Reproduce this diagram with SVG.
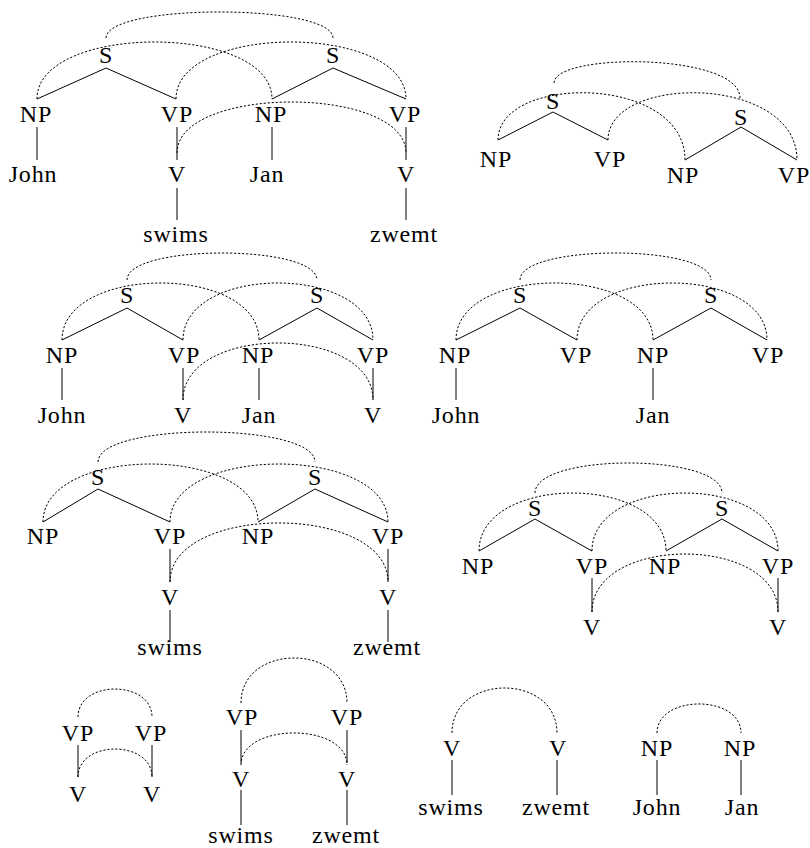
<svg xmlns="http://www.w3.org/2000/svg" width="810" height="848" viewBox="0 0 810 848">
  <style>
    text { font-family: "Liberation Serif", "Times New Roman", serif; font-size: 24px; letter-spacing: 0.8px; text-anchor: middle; fill: #000; }
    .e { stroke: #000; stroke-width: 1; fill: none; }
    .d { stroke: #000; stroke-width: 1; fill: none; stroke-dasharray: 2.2 1.8; }
  </style>
  <rect width="810" height="848" fill="#fff"/>

  <!-- Tree 1: full trees with words -->
  <g id="t1">
    <g id="t1-edges">
      <path class="e" d="M37 99 L106 68 L176 99 M272 99 L333 68 L406 99 M37 127 V160 M177 127 V160 M272 127 V160 M406 127 V160 M177 188 V220 M406 188 V220"/>
      <path class="d" d="M106 38 C106 3.3 333 3.3 333 38"/>
      <path class="d" d="M37 99 C37 23 272 23 272 99"/>
      <path class="d" d="M176 99 C176 23 406 23 406 99"/>
      <path class="d" d="M177 153 C177 85 406 85 406 153"/>
    </g>
    <g id="t1-s1"><text x="106" y="63">S</text></g>
    <g id="t1-s2"><text x="333" y="63">S</text></g>
    <g id="t1-np1"><text x="36" y="122">NP</text></g>
    <g id="t1-vp1"><text x="177" y="122">VP</text></g>
    <g id="t1-np2"><text x="271" y="122">NP</text></g>
    <g id="t1-vp2"><text x="405" y="122">VP</text></g>
    <g id="t1-john"><text x="33" y="182">John</text></g>
    <g id="t1-v1"><text x="177" y="182">V</text></g>
    <g id="t1-jan"><text x="267" y="182">Jan</text></g>
    <g id="t1-v2"><text x="406" y="182">V</text></g>
    <g id="t1-swims"><text x="176" y="242">swims</text></g>
    <g id="t1-zwemt"><text x="404" y="242">zwemt</text></g>
  </g>

  <!-- Tree 2: bare S skeletons -->
  <g id="t2">
    <g id="t2-edges">
      <path class="e" d="M498 140 L553 112 L608 140 M685 160 L741 127 L797 160"/>
      <path class="d" d="M554 83 C554 52.5 740 52.5 740 98"/>
      <path class="d" d="M498 140 C498 74 685 74 685 160"/>
      <path class="d" d="M608 140 C608 74 797 74 797 160"/>
    </g>
    <g id="t2-s1"><text x="553" y="109">S</text></g>
    <g id="t2-s2"><text x="741" y="125">S</text></g>
    <g id="t2-np1"><text x="496" y="167">NP</text></g>
    <g id="t2-vp1"><text x="610" y="167">VP</text></g>
    <g id="t2-np2"><text x="683" y="183">NP</text></g>
    <g id="t2-vp2"><text x="794" y="183">VP</text></g>
  </g>

  <!-- Tree 3: subjects and verbs -->
  <g id="t3">
    <g id="t3-edges">
      <path class="e" d="M62 340 L127 308 L183 340 M259 340 L317 308 L373 340 M62 368 V400 M183 368 V400 M259 368 V400 M373 368 V400"/>
      <path class="d" d="M127 280 C127 244 317 244 317 280"/>
      <path class="d" d="M62 340 C62 264 259 264 259 340"/>
      <path class="d" d="M183 340 C183 264 373 264 373 340"/>
      <path class="d" d="M183 400 C183 324 373 324 373 400"/>
    </g>
    <g id="t3-s1"><text x="127" y="303">S</text></g>
    <g id="t3-s2"><text x="317" y="303">S</text></g>
    <g id="t3-np1"><text x="62" y="363">NP</text></g>
    <g id="t3-vp1"><text x="184" y="363">VP</text></g>
    <g id="t3-np2"><text x="258" y="363">NP</text></g>
    <g id="t3-vp2"><text x="373" y="363">VP</text></g>
    <g id="t3-john"><text x="62" y="423">John</text></g>
    <g id="t3-v1"><text x="183" y="423">V</text></g>
    <g id="t3-jan"><text x="259" y="423">Jan</text></g>
    <g id="t3-v2"><text x="373" y="423">V</text></g>
  </g>

  <!-- Tree 4: subjects only -->
  <g id="t4">
    <g id="t4-edges">
      <path class="e" d="M456 340 L520 308 L577 340 M653 340 L711 308 L767 340 M456 368 V400 M653 368 V400"/>
      <path class="d" d="M520 280 C520 244 711 244 711 280"/>
      <path class="d" d="M456 340 C456 264 653 264 653 340"/>
      <path class="d" d="M577 340 C577 264 767 264 767 340"/>
    </g>
    <g id="t4-s1"><text x="520" y="303">S</text></g>
    <g id="t4-s2"><text x="711" y="303">S</text></g>
    <g id="t4-np1"><text x="455" y="363">NP</text></g>
    <g id="t4-vp1"><text x="576" y="363">VP</text></g>
    <g id="t4-np2"><text x="653" y="363">NP</text></g>
    <g id="t4-vp2"><text x="768" y="363">VP</text></g>
    <g id="t4-john"><text x="456" y="423">John</text></g>
    <g id="t4-jan"><text x="653" y="423">Jan</text></g>
  </g>

  <!-- Tree 5: verbs with words -->
  <g id="t5">
    <g id="t5-edges">
      <path class="e" d="M43 522 L98 489 L170 522 M258 522 L315 489 L388 522 M170 549 V582 M388 549 V582 M170 610 V642 M388 610 V642"/>
      <path class="d" d="M98 462 C98 422 315 422 315 462"/>
      <path class="d" d="M43 522 C43 444.7 258 444.7 258 522"/>
      <path class="d" d="M170 522 C170 444.7 388 444.7 388 522"/>
      <path class="d" d="M170 582 C170 503.3 388 503.3 388 582"/>
    </g>
    <g id="t5-s1"><text x="98" y="485">S</text></g>
    <g id="t5-s2"><text x="315" y="485">S</text></g>
    <g id="t5-np1"><text x="43" y="544">NP</text></g>
    <g id="t5-vp1"><text x="170" y="544">VP</text></g>
    <g id="t5-np2"><text x="258" y="544">NP</text></g>
    <g id="t5-vp2"><text x="388" y="544">VP</text></g>
    <g id="t5-v1"><text x="170" y="605">V</text></g>
    <g id="t5-v2"><text x="388" y="605">V</text></g>
    <g id="t5-swims"><text x="170" y="655">swims</text></g>
    <g id="t5-zwemt"><text x="387" y="655">zwemt</text></g>
  </g>

  <!-- Tree 6: verbs without words -->
  <g id="t6">
    <g id="t6-edges">
      <path class="e" d="M479 551 L535 519 L592 551 M666 551 L722 519 L778 551 M592 578 V612 M778 578 V612"/>
      <path class="d" d="M535 493 C535 453 722 453 722 493"/>
      <path class="d" d="M479 551 C479 473.7 666 473.7 666 551"/>
      <path class="d" d="M592 551 C592 473.7 778 473.7 778 551"/>
      <path class="d" d="M592 612 C592 534.7 778 534.7 778 612"/>
    </g>
    <g id="t6-s1"><text x="535" y="516">S</text></g>
    <g id="t6-s2"><text x="722" y="516">S</text></g>
    <g id="t6-np1"><text x="478" y="574">NP</text></g>
    <g id="t6-vp1"><text x="592" y="574">VP</text></g>
    <g id="t6-np2"><text x="665" y="574">NP</text></g>
    <g id="t6-vp2"><text x="778" y="574">VP</text></g>
    <g id="t6-v1"><text x="592" y="635">V</text></g>
    <g id="t6-v2"><text x="778" y="635">V</text></g>
  </g>

  <!-- Tree 7: VP over V -->
  <g id="t7">
    <g id="t7-edges">
      <path class="e" d="M78 745 V777 M152 745 V777"/>
      <path class="d" d="M78 717 C78 679.7 152 679.7 152 717"/>
      <path class="d" d="M78 777 C78 739.7 152 739.7 152 777"/>
    </g>
    <g id="t7-vp1"><text x="78" y="741">VP</text></g>
    <g id="t7-vp2"><text x="151" y="741">VP</text></g>
    <g id="t7-v1"><text x="78" y="802">V</text></g>
    <g id="t7-v2"><text x="152" y="802">V</text></g>
  </g>

  <!-- Tree 8: VP over V over words -->
  <g id="t8">
    <g id="t8-edges">
      <path class="e" d="M241 730 V763 M347 730 V763 M241 790 V825 M347 790 V825"/>
      <path class="d" d="M241 703 C241 643 347 643 347 703"/>
      <path class="d" d="M241 765 C241 722.3 347 722.3 347 765"/>
    </g>
    <g id="t8-vp1"><text x="242" y="725">VP</text></g>
    <g id="t8-vp2"><text x="347" y="725">VP</text></g>
    <g id="t8-v1"><text x="241" y="787">V</text></g>
    <g id="t8-v2"><text x="347" y="787">V</text></g>
    <g id="t8-swims"><text x="241" y="843">swims</text></g>
    <g id="t8-zwemt"><text x="346" y="843">zwemt</text></g>
  </g>

  <!-- Tree 9: V over words -->
  <g id="t9">
    <g id="t9-edges">
      <path class="e" d="M452 760 V795 M557 760 V795"/>
      <path class="d" d="M452 733 C452 673 557 673 557 733"/>
    </g>
    <g id="t9-v1"><text x="452" y="756">V</text></g>
    <g id="t9-v2"><text x="558" y="756">V</text></g>
    <g id="t9-swims"><text x="451" y="815">swims</text></g>
    <g id="t9-zwemt"><text x="556" y="815">zwemt</text></g>
  </g>

  <!-- Tree 10: NP over names -->
  <g id="t10">
    <g id="t10-edges">
      <path class="e" d="M657 760 V795 M741 760 V795"/>
      <path class="d" d="M657 733 C657 694.3 741 694.3 741 733"/>
    </g>
    <g id="t10-np1"><text x="657" y="756">NP</text></g>
    <g id="t10-np2"><text x="740" y="756">NP</text></g>
    <g id="t10-john"><text x="657" y="815">John</text></g>
    <g id="t10-jan"><text x="742" y="815">Jan</text></g>
  </g>
</svg>
